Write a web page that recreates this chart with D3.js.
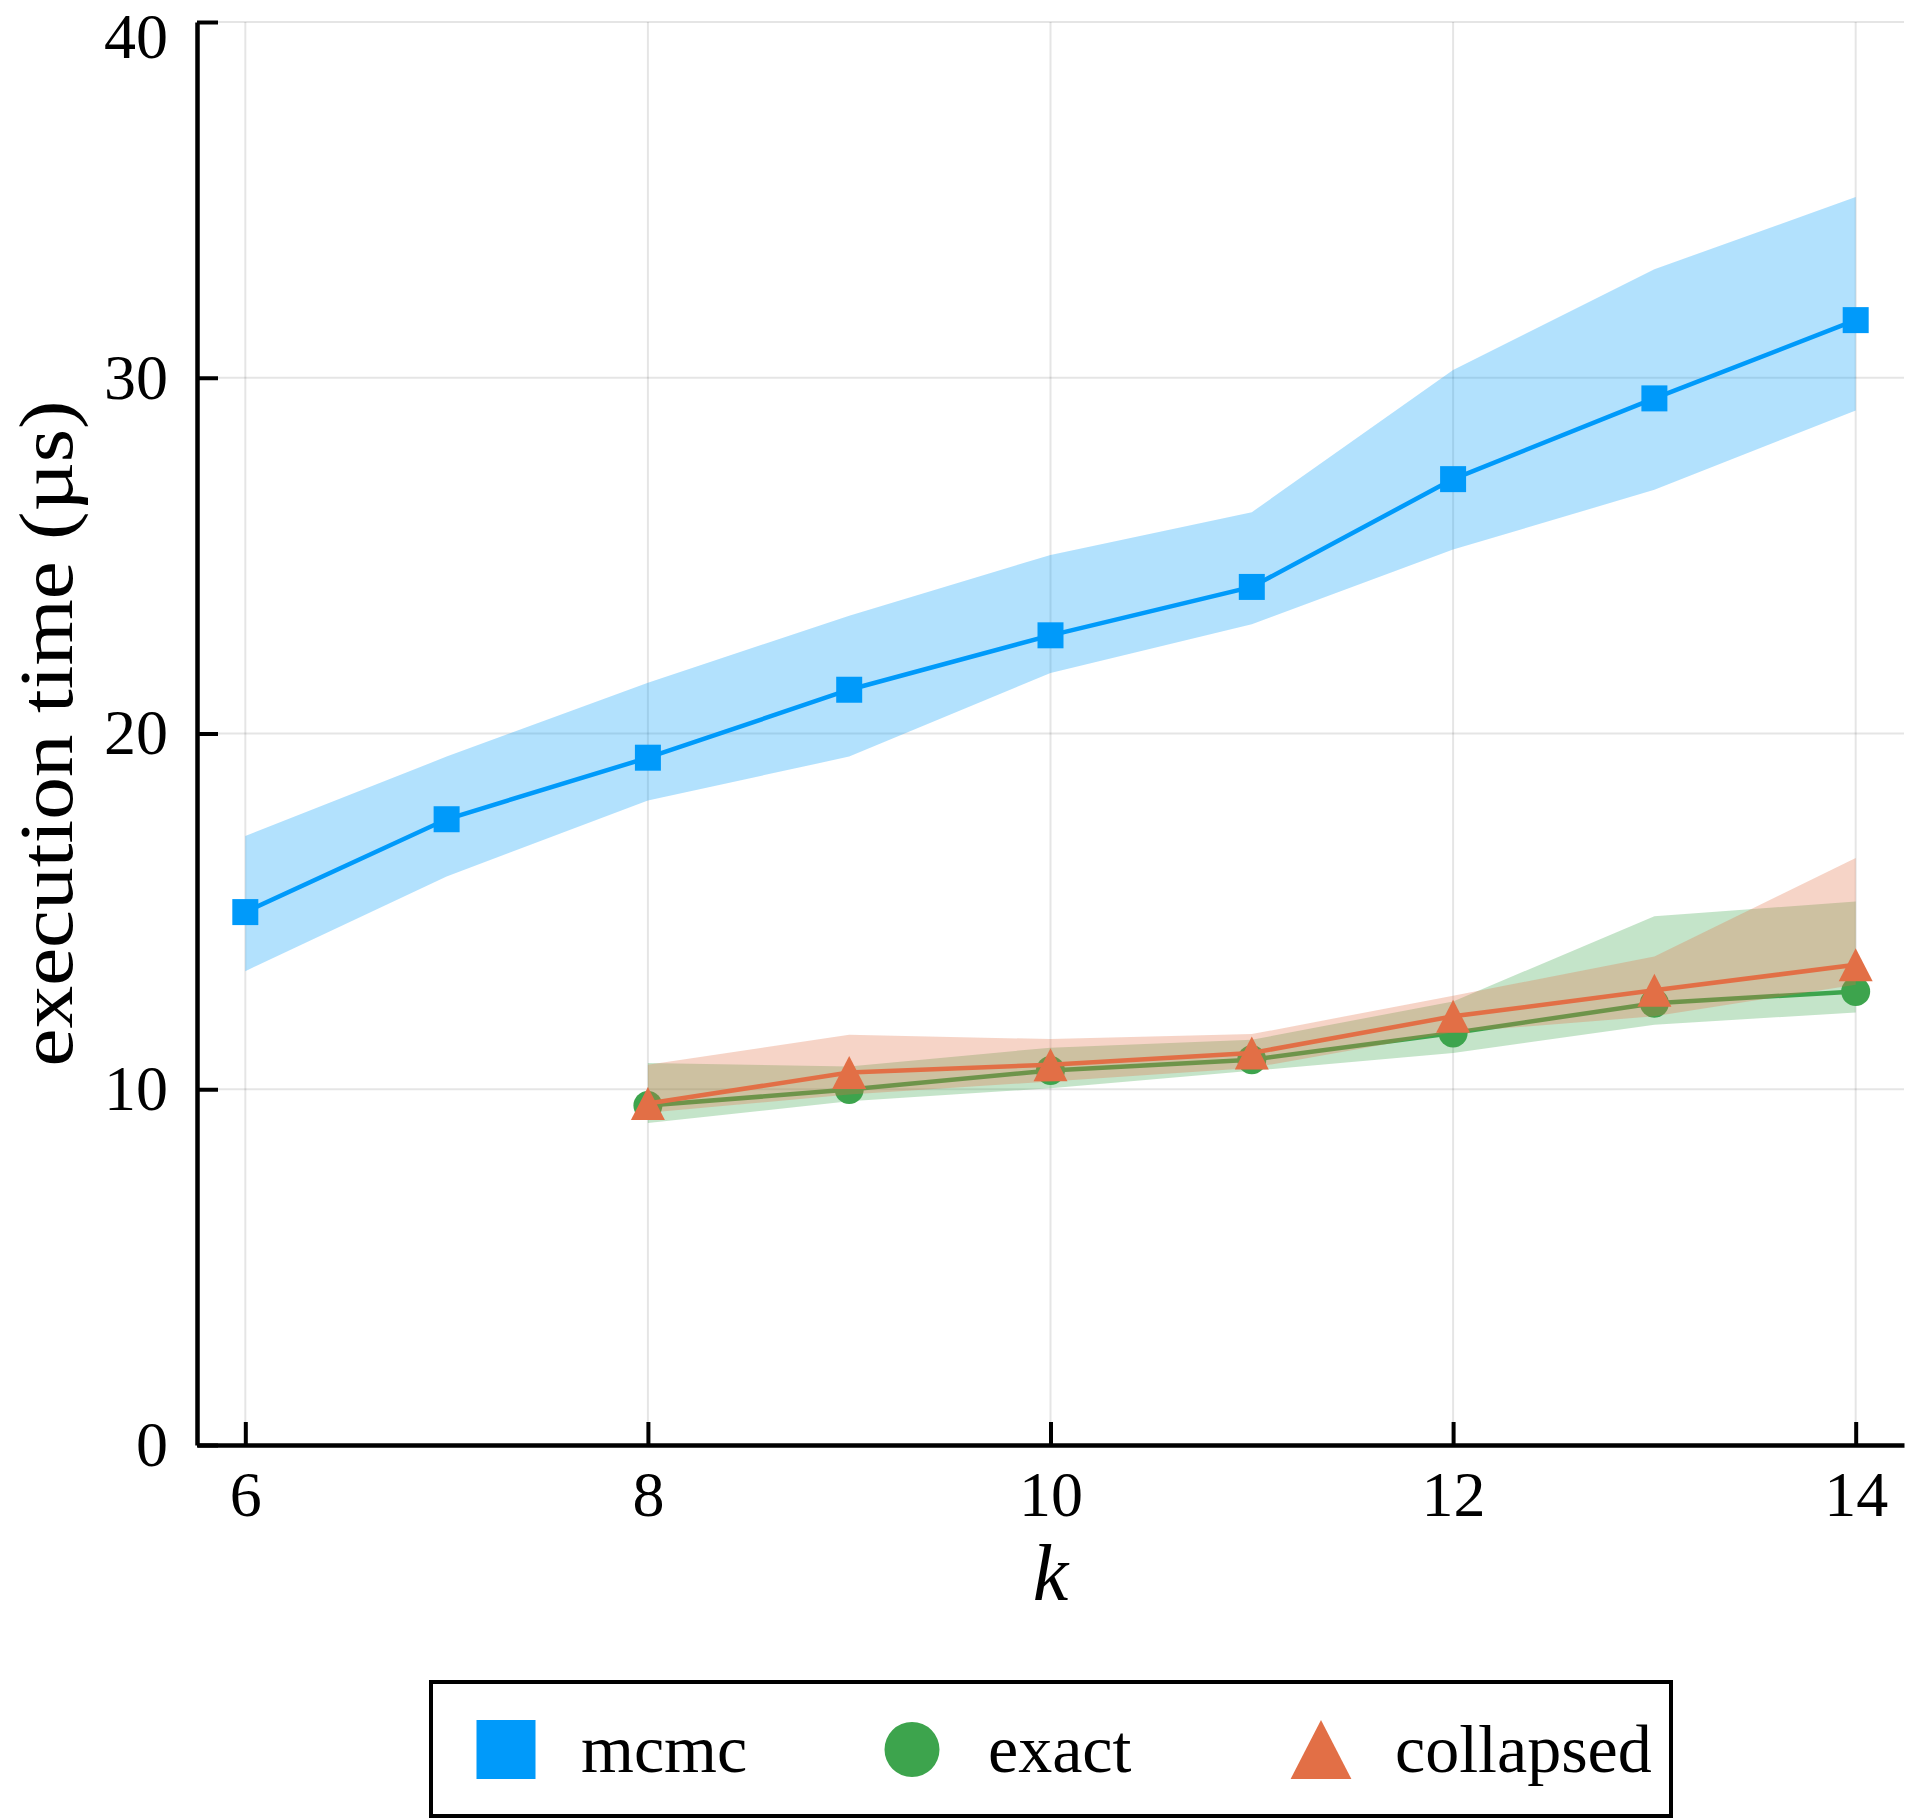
<!DOCTYPE html>
<html>
<head>
<meta charset="utf-8">
<script src="https://cdn.jsdelivr.net/npm/d3@7"></script>
<style>
  body { margin: 0; background: #fff; }
  text { font-family: "Liberation Serif", "DejaVu Serif", serif; fill: #000; }
</style>
</head>
<body>
<div id="vis-container"></div>
<script>
// data
const kMcmc = [6, 7, 8, 9, 10, 11, 12, 13, 14];
const mcmcMean  = [14.98, 17.59, 19.32, 21.23, 22.76, 24.12, 27.15, 29.42, 31.62];
const mcmcLower = [13.32, 15.98, 18.12, 19.35, 21.70, 23.07, 25.17, 26.85, 29.08];
const mcmcUpper = [17.12, 19.35, 21.43, 23.31, 25.02, 26.22, 30.22, 33.05, 35.08];

const kOther = [8, 9, 10, 11, 12, 13, 14];
const exactMean  = [9.54, 9.99, 10.53, 10.83, 11.58, 12.42, 12.75];
const exactLower = [9.05, 9.66, 10.03, 10.52, 11.02, 11.81, 12.16];
const exactUpper = [10.74, 10.64, 11.17, 11.39, 12.47, 14.86, 15.28];

const collapsedMean  = [9.60, 10.47, 10.69, 11.02, 12.05, 12.78, 13.50];
const collapsedLower = [9.34, 9.85, 10.22, 10.60, 11.60, 12.05, 12.94];
const collapsedUpper = [10.69, 11.53, 11.41, 11.55, 12.63, 13.73, 16.50];

const xTicks = [6, 8, 10, 12, 14];
const yTicks = [0, 10, 20, 30, 40];
const seriesNames = ["mcmc", "exact", "collapsed"];
const seriesColors = ["#009AFA", "#3DA44D", "#E26F46"];
const seriesShapes = ["square", "circle", "triangle"];

const W = 1906, H = 1820;
const plotLeft = 197, plotRight = 1904, plotTop = 22, plotBottom = 1445;

const svg = d3.select("#vis-container")
    .append("svg")
    .attr("width", W)
    .attr("height", H);

const x = d3.scaleLinear().domain([5.76, 14.24]).range([plotLeft, plotRight]);
const y = d3.scaleLinear().domain([0, 40]).range([plotBottom, plotTop]);

// grid
const grid = svg.append("g").attr("stroke", "#000").attr("stroke-opacity", 0.1).attr("stroke-width", 2);
grid.selectAll(".gx").data(xTicks).enter().append("line")
    .attr("x1", d => x(d)).attr("x2", d => x(d))
    .attr("y1", plotTop).attr("y2", plotBottom);
grid.selectAll(".gy").data(yTicks.filter(d => d > 0)).enter().append("line")
    .attr("x1", plotLeft).attr("x2", plotRight)
    .attr("y1", d => y(d)).attr("y2", d => y(d));

let series = [
    {k: kMcmc, mean: mcmcMean, lo: mcmcLower, hi: mcmcUpper},
    {k: kOther, mean: exactMean, lo: exactLower, hi: exactUpper},
    {k: kOther, mean: collapsedMean, lo: collapsedLower, hi: collapsedUpper}
];

let markerPath = function(shape, s){
    if(shape === "square") return d3.symbol(d3.symbolSquare, s * s)();
    if(shape === "circle") return d3.symbol(d3.symbolCircle, Math.PI * s * s / 4)();
    let w = s * 1.03, h = s;
    return `M0,${-h/2}L${w/2},${h/2}L${-w/2},${h/2}Z`;
}
const plotSizes = [26, 29, 33];
const legendSizes = [59, 55, 59];

series.forEach((s, i) => {
    let pts = s.k.map((k, j) => ({k: k, m: s.mean[j], lo: s.lo[j], hi: s.hi[j]}));
    let g = svg.append("g");
    g.append("path")
        .attr("d", d3.area().x(d => x(d.k)).y0(d => y(d.lo)).y1(d => y(d.hi))(pts))
        .attr("fill", seriesColors[i])
        .attr("fill-opacity", 0.3);
    g.append("path")
        .attr("d", d3.line().x(d => x(d.k)).y(d => y(d.m))(pts))
        .attr("fill", "none")
        .attr("stroke", seriesColors[i])
        .attr("stroke-width", 4.5);
    g.selectAll(".mk").data(pts).enter().append("path")
        .attr("transform", d => `translate(${x(d.k)},${y(d.m)})`)
        .attr("d", markerPath(seriesShapes[i], plotSizes[i]))
        .attr("fill", seriesColors[i]);
});

// axes
let xAxis = svg.append("g")
    .attr("transform", `translate(0,${plotBottom})`)
    .call(d3.axisBottom(x).tickValues(xTicks).tickSize(-23).tickSizeOuter(0).tickPadding(26));
let yAxis = svg.append("g")
    .attr("transform", `translate(${plotLeft},0)`)
    .call(d3.axisLeft(y).tickValues(yTicks).tickSize(-21).tickSizeOuter(0).tickPadding(29));
[xAxis, yAxis].forEach(a => {
    a.select(".domain").attr("stroke", "#000").attr("stroke-width", 4.5);
    a.selectAll(".tick line").attr("stroke", "#000").attr("stroke-width", 4);
    a.selectAll(".tick text")
        .attr("font-family", "Liberation Serif")
        .attr("font-size", 64)
        .attr("fill", "#000");
});
// keep the top label inside the picture
yAxis.selectAll(".tick text").filter(d => d === 40).attr("dy", "0.56em");

// axis labels
svg.append("text")
    .attr("x", (plotLeft + plotRight) / 2)
    .attr("y", 1600)
    .attr("text-anchor", "middle")
    .attr("font-size", 80)
    .attr("font-style", "italic")
    .text("k");

svg.append("text")
    .attr("transform", `translate(72,${(plotTop + plotBottom) / 2}) rotate(-90)`)
    .attr("text-anchor", "middle")
    .attr("font-size", 76)
    .attr("textLength", 666)
    .attr("lengthAdjust", "spacingAndGlyphs")
    .text("execution time (µs)");

// legend
let legend = svg.append("g");
legend.append("rect")
    .attr("x", 431).attr("y", 1682)
    .attr("width", 1240).attr("height", 134)
    .attr("fill", "#fff")
    .attr("stroke", "#000")
    .attr("stroke-width", 4);
const legendMarkX = [506, 912, 1321];
const legendTextX = [581, 988, 1395];
seriesNames.forEach((name, i) => {
    legend.append("path")
        .attr("transform", `translate(${legendMarkX[i]},1749.5)`)
        .attr("d", markerPath(seriesShapes[i], legendSizes[i]))
        .attr("fill", seriesColors[i]);
    legend.append("text")
        .attr("x", legendTextX[i])
        .attr("y", 1772)
        .attr("font-size", 68)
        .text(name);
});
</script>
</body>
</html>
